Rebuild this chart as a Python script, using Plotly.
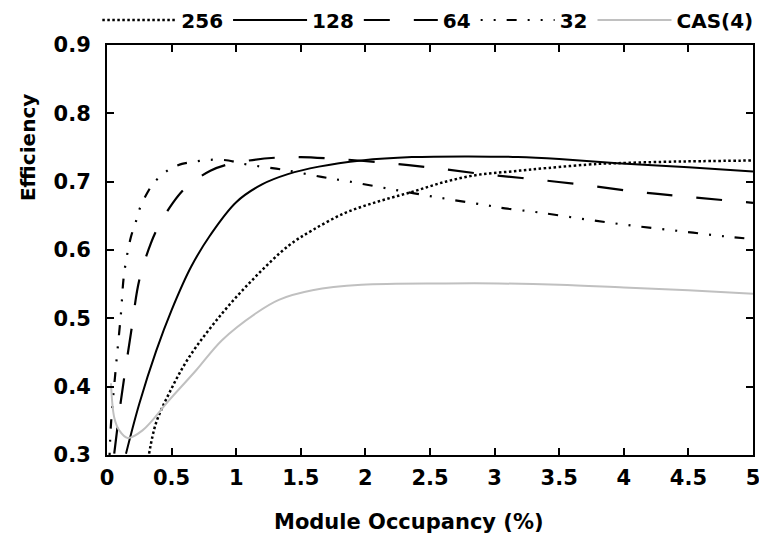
import plotly.graph_objects as go

# ---- data ----
x_256 = [0.326, 0.378, 0.48, 0.635, 0.89, 1.15, 1.41, 1.59, 1.84, 2.10, 2.36, 2.62, 2.87, 3.13, 3.41, 3.8, 3.95, 4.3, 4.6, 5.0]
y_256 = [0.302, 0.346, 0.390, 0.443, 0.507, 0.561, 0.607, 0.629, 0.654, 0.671, 0.685, 0.700, 0.710, 0.715, 0.720, 0.726, 0.727, 0.729, 0.730, 0.731]

x_128 = [0.147, 0.25, 0.38, 0.5, 0.65, 0.8, 1.0, 1.2, 1.4, 1.64, 1.97, 2.36, 2.8, 3.18, 3.5, 3.95, 4.5, 5.0]
y_128 = [0.302, 0.375, 0.452, 0.512, 0.575, 0.622, 0.670, 0.696, 0.711, 0.722, 0.731, 0.736, 0.737, 0.736, 0.733, 0.727, 0.721, 0.715]

x_64 = [0.056, 0.108, 0.185, 0.25, 0.34, 0.40, 0.51, 0.62, 0.80, 0.93, 1.1, 1.3, 1.5, 1.72, 2.13, 2.49, 2.87, 3.28, 3.7, 4.11, 4.49, 5.0]
y_64 = [0.302, 0.38, 0.478, 0.556, 0.61, 0.635, 0.669, 0.693, 0.716, 0.725, 0.731, 0.735, 0.736, 0.734, 0.728, 0.721, 0.712, 0.704, 0.695, 0.685, 0.678, 0.669]

x_32 = [0.02, 0.031, 0.069, 0.108, 0.133, 0.185, 0.22, 0.25, 0.31, 0.365, 0.44, 0.5, 0.58, 0.67, 0.80, 0.94, 1.03, 1.16, 1.31, 1.41, 1.66, 1.88, 2.23, 2.59, 2.92, 3.08, 3.34, 3.70, 4.05, 4.42, 4.78, 5.0]
y_32 = [0.30, 0.346, 0.429, 0.507, 0.566, 0.619, 0.639, 0.659, 0.683, 0.699, 0.712, 0.720, 0.726, 0.729, 0.732, 0.731, 0.727, 0.723, 0.719, 0.716, 0.707, 0.700, 0.688, 0.676, 0.666, 0.661, 0.655, 0.645, 0.636, 0.628, 0.620, 0.616]

x_cas = [0.031, 0.056, 0.095, 0.16, 0.275, 0.48, 0.69, 0.89, 1.15, 1.33, 1.59, 1.97, 2.62, 3.03, 3.5, 4.0, 4.5, 5.0]
y_cas = [0.405, 0.355, 0.336, 0.325, 0.336, 0.38, 0.424, 0.468, 0.507, 0.527, 0.541, 0.549, 0.551, 0.551, 0.549, 0.545, 0.541, 0.536]

x_ticks = [0, 0.5, 1, 1.5, 2, 2.5, 3, 3.5, 4, 4.5, 5]
x_tick_labels = ["0", "0.5", "1", "1.5", "2", "2.5", "3", "3.5", "4", "4.5", "5"]
y_ticks = [0.3, 0.4, 0.5, 0.6, 0.7, 0.8, 0.9]
y_tick_labels = ["0.3", "0.4", "0.5", "0.6", "0.7", "0.8", "0.9"]

x_title = "Module Occupancy (%)"
y_title = "Efficiency"

FONT = "DejaVu Sans"

fig = go.Figure()
fig.add_trace(go.Scatter(x=x_256, y=y_256, name="256", mode="lines", line_shape="spline",
                         line=dict(color="black", width=2.5, dash="2.5px,2.5px")))
fig.add_trace(go.Scatter(x=x_128, y=y_128, name="128", mode="lines", line_shape="spline",
                         line=dict(color="black", width=2)))
fig.add_trace(go.Scatter(x=x_64, y=y_64, name="64", mode="lines", line_shape="spline",
                         line=dict(color="black", width=2.2, dash="26px,24px")))
fig.add_trace(go.Scatter(x=x_32, y=y_32, name="32", mode="lines", line_shape="spline",
                         line=dict(color="black", width=2.2, dash="2px,11px,2px,11px,10px,11px")))
fig.add_trace(go.Scatter(x=x_cas, y=y_cas, name="CAS(4)", mode="lines", line_shape="spline",
                         line=dict(color="#c0c0c0", width=2)))

axis_common = dict(showline=True, mirror="ticks", linecolor="black", linewidth=2,
                   ticks="inside", ticklen=7, tickwidth=2, tickcolor="black",
                   showgrid=False, zeroline=False, automargin=False, ticklabeloverflow="allow",
                   tickfont=dict(family=FONT, size=21, color="black", weight="bold"))

fig.update_xaxes(range=[0, 5], tickvals=x_ticks, ticktext=x_tick_labels, ticklabelstandoff=3,
                 **axis_common)
fig.update_yaxes(range=[0.3, 0.9], tickvals=y_ticks, ticktext=y_tick_labels, ticklabelstandoff=10,
                 **axis_common)

# axis titles placed as in the reference (not centred on the axes)
fig.add_annotation(text=y_title, xref="paper", yref="paper", x=-0.122, y=0.749,
                   xanchor="center", yanchor="middle", textangle=-90, showarrow=False,
                   font=dict(family=FONT, size=20, color="black", weight="bold"))
fig.add_annotation(text=x_title, xref="paper", yref="paper", x=0.4675, y=-0.163,
                   xanchor="center", yanchor="middle", showarrow=False,
                   font=dict(family=FONT, size=21, color="black", weight="bold"))

fig.update_layout(
    width=759, height=533,
    margin=dict(l=107, r=6, t=45, b=78, autoexpand=False),
    plot_bgcolor="white", paper_bgcolor="white",
    showlegend=True,
    legend=dict(orientation="h", x=-0.015, xanchor="left", y=1.061, yanchor="middle",
                font=dict(family=FONT, size=20, color="black", weight="bold"),
                itemwidth=74, bgcolor="rgba(0,0,0,0)", tracegroupgap=0),
)

fig.write_html("out.html")
